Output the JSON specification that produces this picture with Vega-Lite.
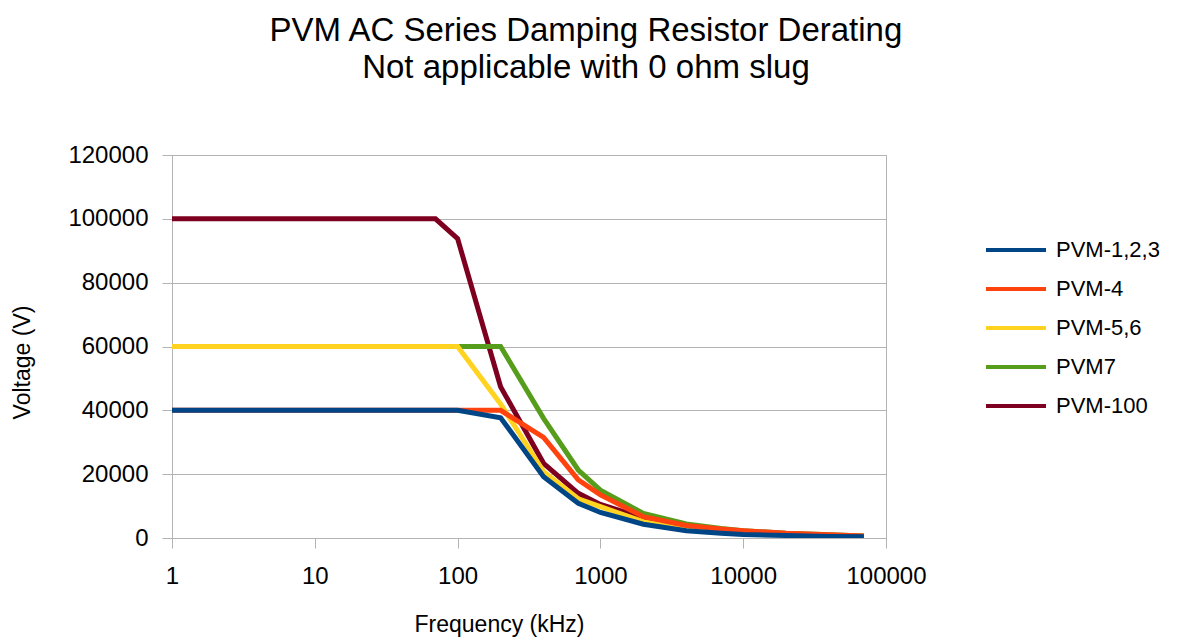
{
  "$schema": "https://vega.github.io/schema/vega-lite/v6.json",
  "width": 714,
  "height": 383,
  "padding": {"left": 11, "top": 15, "right": 5, "bottom": 5},
  "background": "white",
  "config": {
    "font": "Liberation Sans",
    "view": {"stroke": "#b3b3b3", "strokeWidth": 1}
  },
  "title": {
    "text": ["PVM AC Series Damping Resistor Derating", "Not applicable with 0 ohm slug"],
    "fontSize": 33,
    "fontWeight": "normal",
    "lineHeight": 37,
    "color": "black",
    "anchor": "middle",
    "frame": "bounds",
    "offset": 58
  },
  "data": {
    "values": [
      {"series": "PVM-100", "f": 1, "v": 100000},
      {"series": "PVM-100", "f": 2, "v": 100000},
      {"series": "PVM-100", "f": 4, "v": 100000},
      {"series": "PVM-100", "f": 7, "v": 100000},
      {"series": "PVM-100", "f": 10, "v": 100000},
      {"series": "PVM-100", "f": 20, "v": 100000},
      {"series": "PVM-100", "f": 40, "v": 100000},
      {"series": "PVM-100", "f": 70, "v": 100000},
      {"series": "PVM-100", "f": 100, "v": 93800},
      {"series": "PVM-100", "f": 200, "v": 47400},
      {"series": "PVM-100", "f": 400, "v": 23400},
      {"series": "PVM-100", "f": 700, "v": 14000},
      {"series": "PVM-100", "f": 1000, "v": 10500},
      {"series": "PVM-100", "f": 2000, "v": 6300},
      {"series": "PVM-100", "f": 4000, "v": 3300},
      {"series": "PVM-100", "f": 7000, "v": 2300},
      {"series": "PVM-100", "f": 10000, "v": 1800},
      {"series": "PVM-100", "f": 20000, "v": 1200},
      {"series": "PVM-100", "f": 40000, "v": 800},
      {"series": "PVM-100", "f": 70000, "v": 500},

      {"series": "PVM7", "f": 1, "v": 60000},
      {"series": "PVM7", "f": 2, "v": 60000},
      {"series": "PVM7", "f": 4, "v": 60000},
      {"series": "PVM7", "f": 7, "v": 60000},
      {"series": "PVM7", "f": 10, "v": 60000},
      {"series": "PVM7", "f": 20, "v": 60000},
      {"series": "PVM7", "f": 40, "v": 60000},
      {"series": "PVM7", "f": 70, "v": 60000},
      {"series": "PVM7", "f": 100, "v": 60000},
      {"series": "PVM7", "f": 200, "v": 60000},
      {"series": "PVM7", "f": 400, "v": 37500},
      {"series": "PVM7", "f": 700, "v": 21300},
      {"series": "PVM7", "f": 1000, "v": 15000},
      {"series": "PVM7", "f": 2000, "v": 7700},
      {"series": "PVM7", "f": 4000, "v": 4400},
      {"series": "PVM7", "f": 7000, "v": 3000},
      {"series": "PVM7", "f": 10000, "v": 2300},
      {"series": "PVM7", "f": 20000, "v": 1500},
      {"series": "PVM7", "f": 40000, "v": 1000},
      {"series": "PVM7", "f": 70000, "v": 600},

      {"series": "PVM-5,6", "f": 1, "v": 60000},
      {"series": "PVM-5,6", "f": 2, "v": 60000},
      {"series": "PVM-5,6", "f": 4, "v": 60000},
      {"series": "PVM-5,6", "f": 7, "v": 60000},
      {"series": "PVM-5,6", "f": 10, "v": 60000},
      {"series": "PVM-5,6", "f": 20, "v": 60000},
      {"series": "PVM-5,6", "f": 40, "v": 60000},
      {"series": "PVM-5,6", "f": 70, "v": 60000},
      {"series": "PVM-5,6", "f": 100, "v": 60000},
      {"series": "PVM-5,6", "f": 200, "v": 42000},
      {"series": "PVM-5,6", "f": 400, "v": 20800},
      {"series": "PVM-5,6", "f": 700, "v": 12300},
      {"series": "PVM-5,6", "f": 1000, "v": 9800},
      {"series": "PVM-5,6", "f": 2000, "v": 5100},
      {"series": "PVM-5,6", "f": 4000, "v": 2800},
      {"series": "PVM-5,6", "f": 7000, "v": 1900},
      {"series": "PVM-5,6", "f": 10000, "v": 1500},
      {"series": "PVM-5,6", "f": 20000, "v": 1000},
      {"series": "PVM-5,6", "f": 40000, "v": 700},
      {"series": "PVM-5,6", "f": 70000, "v": 500},

      {"series": "PVM-4", "f": 1, "v": 40000},
      {"series": "PVM-4", "f": 2, "v": 40000},
      {"series": "PVM-4", "f": 4, "v": 40000},
      {"series": "PVM-4", "f": 7, "v": 40000},
      {"series": "PVM-4", "f": 10, "v": 40000},
      {"series": "PVM-4", "f": 20, "v": 40000},
      {"series": "PVM-4", "f": 40, "v": 40000},
      {"series": "PVM-4", "f": 70, "v": 40000},
      {"series": "PVM-4", "f": 100, "v": 40000},
      {"series": "PVM-4", "f": 200, "v": 40000},
      {"series": "PVM-4", "f": 400, "v": 31500},
      {"series": "PVM-4", "f": 700, "v": 18200},
      {"series": "PVM-4", "f": 1000, "v": 13500},
      {"series": "PVM-4", "f": 2000, "v": 6700},
      {"series": "PVM-4", "f": 4000, "v": 3900},
      {"series": "PVM-4", "f": 7000, "v": 2800},
      {"series": "PVM-4", "f": 10000, "v": 2300},
      {"series": "PVM-4", "f": 20000, "v": 1500},
      {"series": "PVM-4", "f": 40000, "v": 1000},
      {"series": "PVM-4", "f": 70000, "v": 600},

      {"series": "PVM-1,2,3", "f": 1, "v": 40000},
      {"series": "PVM-1,2,3", "f": 2, "v": 40000},
      {"series": "PVM-1,2,3", "f": 4, "v": 40000},
      {"series": "PVM-1,2,3", "f": 7, "v": 40000},
      {"series": "PVM-1,2,3", "f": 10, "v": 40000},
      {"series": "PVM-1,2,3", "f": 20, "v": 40000},
      {"series": "PVM-1,2,3", "f": 40, "v": 40000},
      {"series": "PVM-1,2,3", "f": 70, "v": 40000},
      {"series": "PVM-1,2,3", "f": 100, "v": 40000},
      {"series": "PVM-1,2,3", "f": 200, "v": 37700},
      {"series": "PVM-1,2,3", "f": 400, "v": 19200},
      {"series": "PVM-1,2,3", "f": 700, "v": 10900},
      {"series": "PVM-1,2,3", "f": 1000, "v": 8000},
      {"series": "PVM-1,2,3", "f": 2000, "v": 4300},
      {"series": "PVM-1,2,3", "f": 4000, "v": 2300},
      {"series": "PVM-1,2,3", "f": 7000, "v": 1500},
      {"series": "PVM-1,2,3", "f": 10000, "v": 1100},
      {"series": "PVM-1,2,3", "f": 20000, "v": 800},
      {"series": "PVM-1,2,3", "f": 40000, "v": 500},
      {"series": "PVM-1,2,3", "f": 70000, "v": 400}
    ]
  },
  "mark": {"type": "line", "strokeWidth": 5, "strokeJoin": "miter", "clip": true},
  "encoding": {
    "x": {
      "field": "f",
      "type": "quantitative",
      "scale": {"type": "log", "domain": [1, 100000], "nice": false},
      "axis": {
        "title": "Frequency (kHz)",
        "values": [1, 10, 100, 1000, 10000, 100000],
        "format": "d",
        "grid": false,
        "tickSize": 10,
        "tickColor": "#b3b3b3",
        "domainColor": "#b3b3b3",
        "labelFontSize": 24,
        "labelColor": "black",
        "labelPadding": 16,
        "labelFlush": false,
        "titleFontSize": 23,
        "titleFontWeight": "normal",
        "titleColor": "black",
        "titlePadding": 25,
        "titleX": 327
      }
    },
    "y": {
      "field": "v",
      "type": "quantitative",
      "scale": {"domain": [0, 120000], "nice": false},
      "axis": {
        "title": "Voltage (V)",
        "values": [0, 20000, 40000, 60000, 80000, 100000, 120000],
        "format": "d",
        "grid": true,
        "gridColor": "#b3b3b3",
        "tickSize": 10,
        "tickColor": "#b3b3b3",
        "domainColor": "#b3b3b3",
        "labelFontSize": 24,
        "labelColor": "black",
        "labelPadding": 14,
        "titleFontSize": 23,
        "titleFontWeight": "normal",
        "titleColor": "black",
        "titlePadding": 33,
        "titleY": 207
      }
    },
    "color": {
      "field": "series",
      "type": "nominal",
      "scale": {
        "domain": ["PVM-1,2,3", "PVM-4", "PVM-5,6", "PVM7", "PVM-100"],
        "range": ["#004586", "#ff420e", "#ffd320", "#579d1c", "#7e0021"]
      },
      "legend": {
        "title": null,
        "orient": "none",
        "legendX": 832,
        "legendY": 83,
        "symbolType": "M-3,0H3",
        "symbolSize": 400,
        "symbolStrokeWidth": 4,
        "labelFontSize": 22,
        "labelColor": "black",
        "labelOffset": 28,
        "rowPadding": 16
      }
    }
  }
}
